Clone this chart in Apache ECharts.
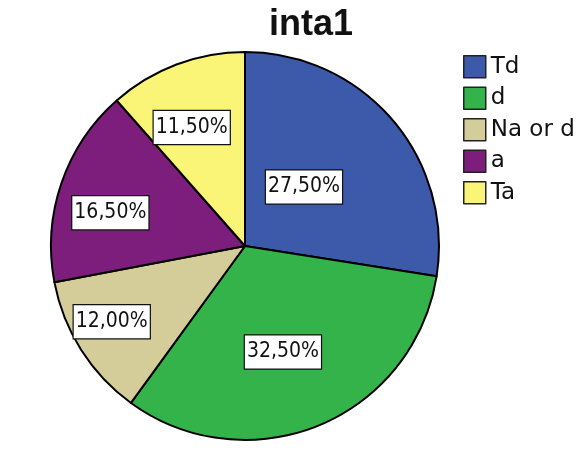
<!DOCTYPE html>
<html>
<head>
<meta charset="utf-8">
<script src="https://cdn.jsdelivr.net/npm/echarts@6/dist/echarts.min.js"></script>
<style>
html,body{margin:0;padding:0;background:#fff;}
#chart{width:588px;height:450px;}
</style>
</head>
<body>
<div id="chart"></div>
<script>
const titleText = 'inta1';
const categories = ['Td', 'd', 'Na or d', 'a', 'Ta'];
const values = [27.5, 32.5, 12.0, 16.5, 11.5];
const colors = ['#3d59a9', '#33b34a', '#d4cc99', '#7d1e7d', '#fbf577'];
const labelDistFrac = [0.43, 0.58, 0.79, 0.715, 0.67];
const labelAngleShiftDeg = [-4.5, 2.8, 2.8, -5, -3.5];

const CX = 245, CY = 246, R = 194;
const total = values.reduce((a, b) => a + b, 0);
const midAngles = [];
let acc = 0;
values.forEach(v => { midAngles.push((acc + v / 2) / total * 2 * Math.PI); acc += v; });

const chart = echarts.init(document.getElementById('chart'), null, {renderer: 'canvas'});
chart.setOption({
  animation: false,
  backgroundColor: '#ffffff',
  title: {
    text: titleText,
    left: 269, top: 7, padding: 0,
    textStyle: {fontFamily: 'Liberation Sans', fontWeight: 'bold', fontSize: 36, color: '#111'}
  },
  legend: {
    orient: 'vertical',
    left: 463, top: 55,
    itemWidth: 22, itemHeight: 22, itemGap: 8,
    padding: 0,
    icon: 'rect',
    itemStyle: {borderColor: '#222', borderWidth: 1.5},
    textStyle: {fontFamily: 'DejaVu Sans', fontSize: 23, color: '#111', padding: [0, 0, 0, 0]},
    data: categories
  },
  series: [{
    type: 'pie',
    center: [CX, CY],
    radius: R,
    startAngle: 90,
    clockwise: true,
    silent: true,
    itemStyle: {borderColor: '#000', borderWidth: 2},
    label: {
      show: true,
      position: 'inside',
      formatter: p => values[p.dataIndex].toFixed(2).replace('.', ',') + '%',
      fontFamily: "'DejaVu Sans Condensed', 'DejaVu Sans'",
      fontSize: 21,
      color: '#111',
      backgroundColor: '#ffffff',
      borderColor: '#111',
      borderWidth: 1.2,
      padding: [6, 2, 6, 2]
    },
    labelLayout: p => {
      const i = p.dataIndex;
      const a = midAngles[i] + labelAngleShiftDeg[i] * Math.PI / 180;
      const d = labelDistFrac[i] * R;
      return {x: CX + d * Math.sin(a), y: CY - d * Math.cos(a), align: 'center', verticalAlign: 'middle'};
    },
    data: categories.map((c, i) => ({name: c, value: values[i], itemStyle: {color: colors[i]}}))
  }]
});
</script>
</body>
</html>
